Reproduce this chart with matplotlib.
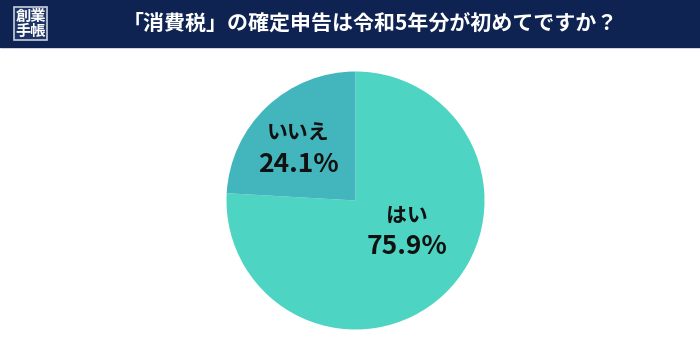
import matplotlib
matplotlib.use("Agg")
import matplotlib.pyplot as plt
from matplotlib.patches import Rectangle

plt.rcParams['font.family'] = ['Noto Sans CJK JP', 'DejaVu Sans']

title = "「消費税」の確定申告は令和5年分が初めてですか？"
labels = ["はい", "いいえ"]
values = [75.9, 24.1]
colors = ["#4dd4c2", "#43b5bc"]

W, H = 700, 356
fig = plt.figure(figsize=(W / 100, H / 100), dpi=100)
ax = fig.add_axes([0, 0, 1, 1])
ax.set_xlim(0, W)
ax.set_ylim(0, H)
ax.axis('off')

# header
navy = "#0e2352"
ax.add_patch(Rectangle((0, H - 46.5), W, 46.5, color=navy, zorder=1))
ax.add_patch(Rectangle((14, H - 40), 33, 33, facecolor="#1c3466", edgecolor="#c8cfdc", lw=1.2, zorder=2))
ax.text(30.5, H - 16, "創業", color="white", fontsize=11, fontweight='bold', ha='center', va='center', zorder=3)
ax.text(30.5, H - 31, "手帳", color="white", fontsize=11, fontweight='bold', ha='center', va='center', zorder=3)
ax.text(370.5, H - 23, title, color="white", fontsize=15.1, fontweight='bold', ha='center', va='center', zorder=3)

# pie
cx, cy, r = 355.5, H - 200.5, 129
wedges, _ = ax.pie(values, colors=colors, startangle=90, counterclock=False,
                   center=(cx, cy), radius=r, frame=True,
                   wedgeprops=dict(linewidth=0))
ax.set_xlim(0, W)
ax.set_ylim(0, H)
ax.axis('off')

label_pos = [(407, 215, 247), (298, 133, 165)]
for lab, val, (x, y1, y2) in zip(labels, values, label_pos):
    ax.text(x, H - y1, lab, fontsize=15, fontweight='bold', color="#111111", ha='center', va='center')
    ax.text(x, H - y2, f"{val:.1f}%", fontsize=19, fontweight='bold', color="#111111", ha='center', va='center')

fig.savefig("out.png", dpi=100)
